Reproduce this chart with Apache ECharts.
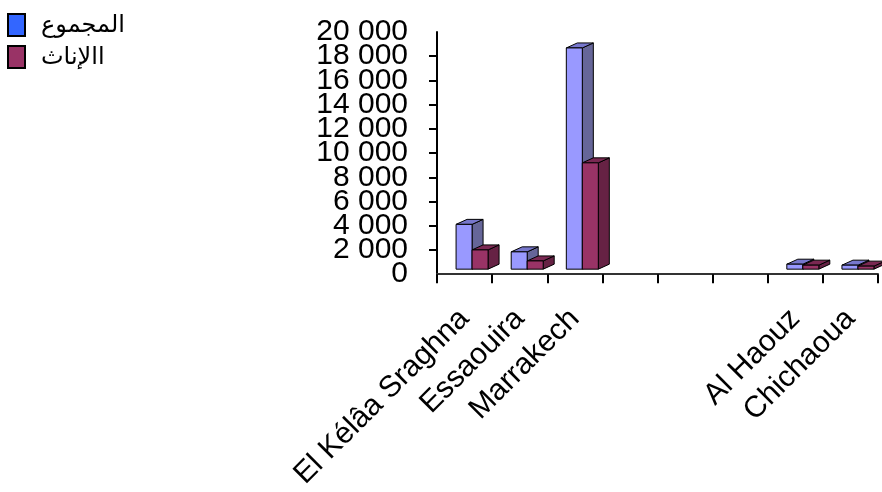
<!DOCTYPE html>
<html>
<head>
<meta charset="utf-8">
<script src="https://cdn.jsdelivr.net/npm/echarts@6/dist/echarts.min.js"></script>
<style>
html,body{margin:0;padding:0;background:#fff;}
#chart{width:882px;height:492px;}
</style>
</head>
<body>
<div id="chart"></div>
<script>
// ---- data ----
var categories = ['El Kélâa Sraghna', 'Essaouira', 'Marrakech', ' ', '  ', '   ', 'Al Haouz', 'Chichaoua'];
var totalName = 'المجموع';
var femaleName = 'االإناث';
var totalValues = [3700, 1430, 18270, null, null, null, 410, 330];
var femaleValues = [1590, 680, 8780, null, null, null, 330, 250];
var yMin = 0, yMax = 20000, yStep = 2000;

// ---- rendering ----
var BAR_W = 16, DX = 11, DY = 5, OX = 7.5, OY = -5;
var FONT = 'Arial, "Liberation Sans", "DejaVu Sans", sans-serif';

function toData(arr) {
  var out = [];
  arr.forEach(function (v, i) { if (v !== null) out.push([i, v]); });
  return out;
}

function makeRender(side, cFront, cTop, cSide) {
  return function (params, api) {
    var i = api.value(0), v = api.value(1);
    var top = api.coord([i, v]);
    var base = api.coord([i, 0]);
    var cx = top[0] + OX;
    var x0 = side === 0 ? cx - BAR_W : cx;
    var x1 = x0 + BAR_W;
    var yt = top[1] + OY, yb = base[1] + OY;
    var st = { stroke: '#000', lineWidth: 1 };
    return {
      type: 'group',
      children: [
        { type: 'polygon', shape: { points: [[x1, yt], [x1 + DX, yt - DY], [x1 + DX, yb - DY], [x1, yb]] },
          style: Object.assign({ fill: cSide }, st) },
        { type: 'polygon', shape: { points: [[x0, yt], [x0 + DX, yt - DY], [x1 + DX, yt - DY], [x1, yt]] },
          style: Object.assign({ fill: cTop }, st) },
        { type: 'rect', shape: { x: x0, y: yt, width: BAR_W, height: yb - yt },
          style: Object.assign({ fill: cFront }, st) }
      ]
    };
  };
}

function fmt(v) {
  var s = String(v);
  if (s.length > 3) s = s.slice(0, s.length - 3) + ' ' + s.slice(s.length - 3);
  return s;
}
function fmtEnds(v) {
  return (v === yMin || v === yMax) ? fmt(v) : '';
}

var yLabelStyle = { fontSize: 30, color: '#000', margin: 29, fontFamily: FONT };

var chart = echarts.init(document.getElementById('chart'));
chart.setOption({
  animation: false,
  backgroundColor: '#fff',
  textStyle: { fontFamily: FONT },
  legend: {
    orient: 'vertical',
    left: 7,
    top: 13,
    padding: 0,
    itemWidth: 17,
    itemHeight: 22,
    itemGap: 8,
    icon: 'rect',
    textStyle: { fontSize: 24, color: '#000', padding: [5, 0, 0, 11], fontFamily: FONT },
    data: [
      { name: totalName, itemStyle: { color: '#3366ff', borderColor: '#000', borderWidth: 2 } },
      { name: femaleName, itemStyle: { color: '#993366', borderColor: '#000', borderWidth: 2 } }
    ]
  },
  grid: { left: 437, right: 4, top: 32, bottom: 217 },
  xAxis: {
    type: 'category',
    data: categories,
    boundaryGap: true,
    axisLine: { show: true, lineStyle: { color: '#333', width: 2 } },
    axisTick: { show: true, length: 9, interval: 0, lineStyle: { color: '#000', width: 2 } },
    axisLabel: { interval: 0, rotate: 45, fontSize: 30, color: '#000', margin: 40, fontFamily: FONT },
    splitLine: { show: false }
  },
  yAxis: [
    {
      type: 'value',
      min: yMin, max: yMax, interval: yStep,
      axisLine: { show: true, lineStyle: { color: '#000', width: 2 } },
      axisTick: { show: true, length: 8, lineStyle: { color: '#000', width: 2 } },
      axisLabel: Object.assign({ formatter: fmt, showMinLabel: false, showMaxLabel: false }, yLabelStyle),
      splitLine: { show: false }
    },
    {
      type: 'value', position: 'left',
      min: yMin, max: yMax, interval: yStep,
      axisLine: { show: false },
      axisTick: { show: false },
      axisLabel: Object.assign({ formatter: fmtEnds, showMinLabel: true, showMaxLabel: true }, yLabelStyle),
      splitLine: { show: false }
    }
  ],
  series: [
    {
      name: totalName, type: 'custom', color: '#3366ff',
      yAxisIndex: 0,
      renderItem: makeRender(0, '#9999ff', '#7777cc', '#666699'),
      data: toData(totalValues), z: 2
    },
    {
      name: femaleName, type: 'custom', color: '#993366',
      yAxisIndex: 0,
      renderItem: makeRender(1, '#993366', '#7a2852', '#662244'),
      data: toData(femaleValues), z: 3
    }
  ]
});
</script>
</body>
</html>
